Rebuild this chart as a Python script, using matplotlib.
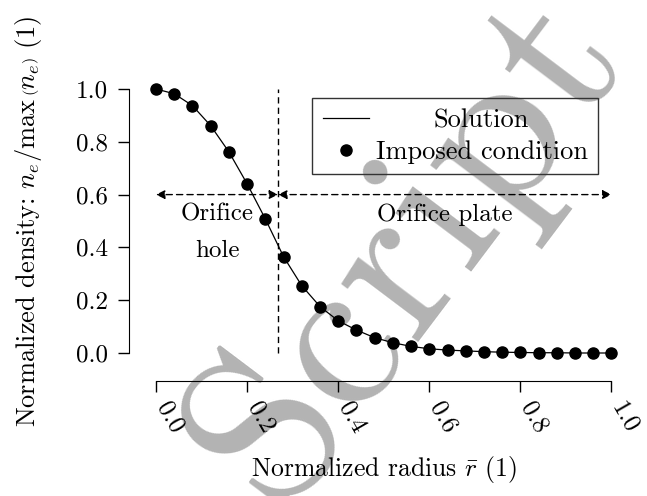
import matplotlib
matplotlib.use("Agg")
import matplotlib.pyplot as plt
import matplotlib.transforms as mtransforms
import numpy as np

plt.rcParams['font.family'] = ['cmr10', 'DejaVu Serif']
plt.rcParams['mathtext.fontset'] = 'cm'
plt.rcParams['axes.unicode_minus'] = False
plt.rcParams['axes.formatter.use_mathtext'] = True

# normalized radius and imposed density values
r_bar = [0.00, 0.04, 0.08, 0.12, 0.16, 0.20, 0.24, 0.28, 0.32, 0.36,
         0.40, 0.44, 0.48, 0.52, 0.56, 0.60, 0.64, 0.68, 0.72, 0.76,
         0.80, 0.84, 0.88, 0.92, 0.96, 1.00]
n_norm = [1.000, 0.982, 0.937, 0.861, 0.762, 0.641, 0.508, 0.365, 0.255, 0.176,
          0.122, 0.087, 0.058, 0.039, 0.025, 0.016, 0.011, 0.008, 0.005, 0.003,
          0.002, 0.001, 0.001, 0.000, 0.000, 0.000]
r_orifice = 0.268
arrow_y = 0.6
xticks = [0.0, 0.2, 0.4, 0.6, 0.8, 1.0]
yticks = [0.0, 0.2, 0.4, 0.6, 0.8, 1.0]

fig = plt.figure(figsize=(6.47, 4.96), dpi=100)

# watermark behind everything
fig.text(0.6285, 0.5014, 'Script', rotation=53, ha='center', va='center',
         fontsize=160, color='#b3b3b3', zorder=-5)

ax = fig.add_axes([0.2059, 0.2617, 0.7744, 0.5855])
ax.patch.set_visible(False)

ax.plot(r_bar, n_norm, color='k', lw=0.9, label='Solution', zorder=3)
ax.plot(r_bar, n_norm, 'o', color='k', ms=8, label='Imposed condition', zorder=4)

dash = (0, (4.5, 3.0))
ax.plot([r_orifice, r_orifice], [0, 1], color='k', lw=1, ls=dash)
ax.annotate('', xy=(0, arrow_y), xytext=(r_orifice, arrow_y),
            arrowprops=dict(arrowstyle='<|-|>', ls=dash, lw=1, color='k',
                            shrinkA=0, shrinkB=0, mutation_scale=13))
ax.annotate('', xy=(1.0, arrow_y), xytext=(r_orifice, arrow_y),
            arrowprops=dict(arrowstyle='<|-|>', ls=dash, lw=1, color='k',
                            shrinkA=0, shrinkB=0, mutation_scale=13))

ax.text(r_orifice / 2, 0.565, 'Orifice\nhole', ha='center', va='top',
        fontsize=18, linespacing=1.8)
ax.text(0.634, 0.565, 'Orifice plate', ha='center', va='top', fontsize=18)

ax.set_xlim(-0.05, 1.05)
ax.set_ylim(-0.05, 1.05)
ax.set_xticks(xticks)
ax.set_yticks(yticks)
ax.set_yticklabels(['%.1f' % v for v in yticks])
ax.tick_params(labelsize=18, length=8, width=1)
ax.tick_params(axis='y', pad=7)
ax.tick_params(axis='x', labelbottom=False)

# rotated x tick labels, anchored at the start of their baseline
trans = mtransforms.blended_transform_factory(ax.transData, ax.transAxes)
for v in xticks:
    ax.text(v, -0.1384, '%.1f' % v, transform=trans, rotation=-60,
            rotation_mode='anchor', ha='left', va='baseline', fontsize=18,
            clip_on=False)

for s in ['top', 'right']:
    ax.spines[s].set_visible(False)
ax.spines['left'].set_position(('outward', 3))
ax.spines['bottom'].set_position(('outward', 10.7))
ax.spines['left'].set_bounds(0, 1)
ax.spines['bottom'].set_bounds(0, 1)

ax.set_xlabel(r'Normalized radius $\bar{r}$ (1)', fontsize=18.5)
ax.set_ylabel(r'Normalized density: $n_e/\max\,\left(n_e\right)$ (1)', fontsize=19)
ax.xaxis.set_label_coords(0.5, -0.302)
ax.yaxis.set_label_coords(-0.178, 0.5)

leg = ax.legend(loc='upper right', bbox_to_anchor=(0.928, 0.924),
                borderaxespad=0, fontsize=19, fancybox=False,
                facecolor='none', edgecolor='#333333', framealpha=1,
                handlelength=1.75, handletextpad=0.25, borderpad=0.4,
                labelspacing=0.3)
leg.get_frame().set_linewidth(1)

# center the legend texts
fig.canvas.draw()
r = fig.canvas.get_renderer()
widths = [t.get_window_extent(r).width for t in leg.get_texts()]
wmax = max(widths)
for t, w in zip(leg.get_texts(), widths):
    t.set_x((wmax - w) / 2)

fig.savefig('out.png', dpi=100)
